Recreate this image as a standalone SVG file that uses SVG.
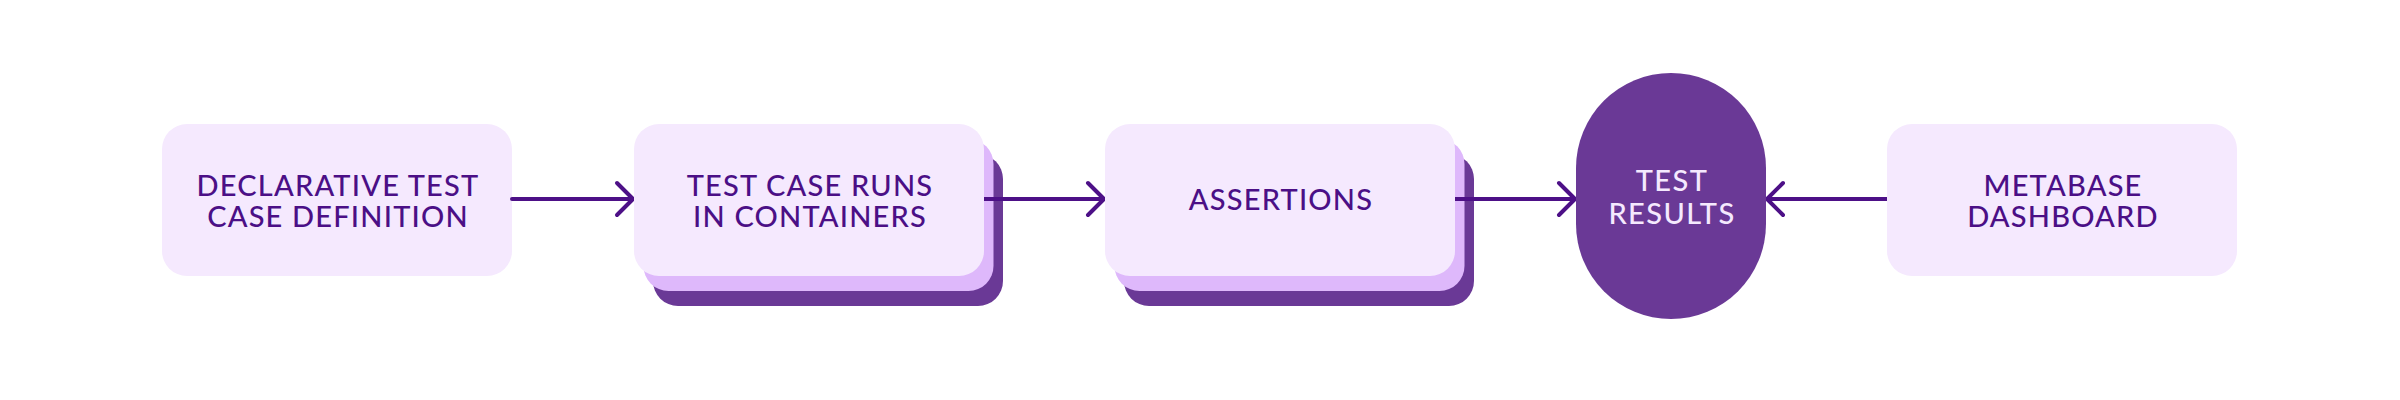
<svg xmlns="http://www.w3.org/2000/svg" width="2400" height="400" viewBox="0 0 2400 400">
<style>
.box{fill:#f5e9fe}
.mid{fill:#deb8fb}
.dark{fill:#6a3996}
.lbl{font-family:Lato,"Liberation Sans",sans-serif;font-size:29px;font-weight:500;letter-spacing:1.2px;fill:#4b0f86;text-anchor:middle}
.lbl2{font-family:Lato,"Liberation Sans",sans-serif;font-size:29px;font-weight:500;letter-spacing:1.4px;fill:#f5e9fe;text-anchor:middle}
.edge{stroke:#4d1087;stroke-width:4;fill:none;stroke-linecap:round;stroke-linejoin:round}
</style>
<rect width="2400" height="400" fill="#ffffff"/>
<g id="n1">
<rect class="box" x="162" y="124" width="350" height="152" rx="25"/>
<text class="lbl" x="338" y="196">DECLARATIVE TEST</text>
<text class="lbl" x="338" y="227">CASE DEFINITION</text>
</g>
<g id="n2">
<rect class="dark" x="653" y="154" width="350" height="152" rx="25"/>
<rect class="mid" x="643.5" y="139" width="350" height="152" rx="25"/>
</g>
<g id="n3">
<rect class="dark" x="1124" y="154" width="350" height="152" rx="25"/>
<rect class="mid" x="1114.5" y="139" width="350" height="152" rx="25"/>
</g>
<g id="edges">
<path class="edge" d="M512 199H633M617 183L633 199L617 215"/>
<path class="edge" d="M984 199H1104M1088 183L1104 199L1088 215"/>
<path class="edge" d="M1455 199H1575M1559 183L1575 199L1559 215"/>
<path class="edge" d="M1887 199H1767M1783 183L1767 199L1783 215"/>
</g>
<g id="n2-front">
<rect class="box" x="634" y="124" width="350" height="152" rx="25"/>
<text class="lbl" x="810" y="196">TEST CASE RUNS</text>
<text class="lbl" x="810" y="227">IN CONTAINERS</text>
</g>
<g id="n3-front">
<rect class="box" x="1105" y="124" width="350" height="152" rx="25"/>
<text class="lbl" x="1281" y="210">ASSERTIONS</text>
</g>
<g id="n4">
<rect class="dark" x="1576" y="73" width="190" height="246" rx="95"/>
<text class="lbl2" x="1672" y="191">TEST</text>
<text class="lbl2" x="1672" y="224">RESULTS</text>
</g>
<g id="n5">
<rect class="box" x="1887" y="124" width="350" height="152" rx="25"/>
<text class="lbl" x="2063" y="196">METABASE</text>
<text class="lbl" x="2063" y="227">DASHBOARD</text>
</g>
</svg>
